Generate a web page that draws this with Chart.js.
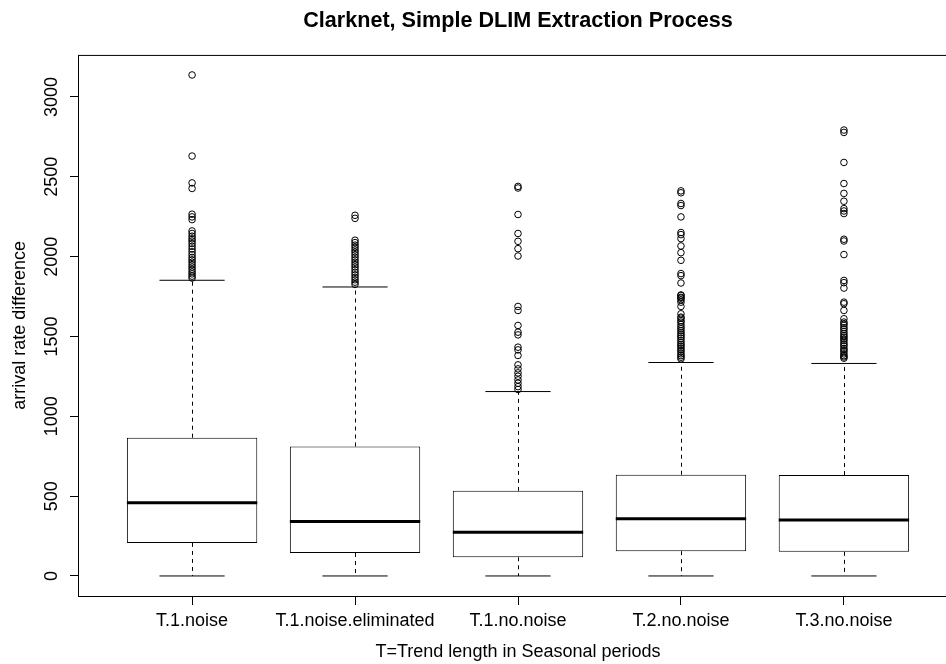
<!DOCTYPE html>
<html>
<head>
<meta charset="utf-8">
<title>Clarknet, Simple DLIM Extraction Process</title>
<script src="https://cdn.jsdelivr.net/npm/chart.js@4.4.1/dist/chart.umd.min.js"></script>
<style>
  html, body { margin: 0; padding: 0; background: #fff; overflow: hidden; }
  #wrap { width: 980px; height: 664px; }
</style>
</head>
<body>
<div id="wrap"><canvas id="boxChart" width="980" height="664"></canvas></div>
<script>
const categories = ["T.1.noise", "T.1.noise.eliminated", "T.1.no.noise", "T.2.no.noise", "T.3.no.noise"];

// five-number summaries per group
const whiskerLow = [0, 0, 0, 0, 0];
const quartile1 = [207, 144, 117, 155, 151];
const medians = [458, 341, 274, 358, 351];
const quartile3 = [866, 811, 533, 634, 632];
const whiskerHigh = [1852, 1810, 1155, 1337, 1331];

const outliersT1Noise = [3138, 2630, 2462, 2427, 2266, 2249, 2232, 2161, 2145, 2128, 2112, 2098, 2082,
  2065, 2048, 2030, 2012, 1995, 1980, 1965, 1950, 1935, 1920, 1905, 1892, 1878, 1866];
const outliersT1Eliminated = [2259, 2240, 2103, 2088, 2072, 2058, 2042, 2028, 2012, 1996, 1980, 1965,
  1950, 1935, 1918, 1902, 1886, 1870, 1855, 1840, 1826];
const outliersT1NoNoise = [2440, 2430, 2264, 2145, 2096, 2050, 2004, 1688, 1663, 1569, 1527, 1510,
  1433, 1416, 1381, 1322, 1297, 1272, 1251, 1228, 1207, 1186, 1168];
const outliersT2NoNoise = [2412, 2400, 2333, 2320, 2249, 2151, 2138, 2113, 2067, 2025, 1977, 1894, 1881,
  1835, 1760, 1757, 1745, 1740, 1730, 1715, 1688, 1642, 1621, 1615, 1600, 1590, 1575, 1560, 1548, 1535,
  1523, 1510, 1500, 1488, 1475, 1462, 1450, 1440, 1428, 1416, 1405, 1391, 1380, 1370, 1360];
const outliersT3NoNoise = [2793, 2778, 2590, 2458, 2396, 2347, 2301, 2286, 2270, 2109, 2098, 2013, 1851,
  1837, 1803, 1715, 1705, 1663, 1611, 1590, 1580, 1569, 1555, 1544, 1530, 1517, 1505, 1496, 1485, 1475,
  1462, 1450, 1440, 1425, 1416, 1405, 1391, 1380, 1372, 1364];
const outliers = [outliersT1Noise, outliersT1Eliminated, outliersT1NoNoise, outliersT2NoNoise, outliersT3NoNoise];

const yTicks = [0, 500, 1000, 1500, 2000, 2500, 3000];

const FONT = "'Liberation Sans', Arial, Helvetica, sans-serif";
Chart.defaults.font.family = FONT;
Chart.defaults.color = "#000";

// y range like R: data range padded by 4% on each side
const yTop = Math.max(...outliers.flat(), ...whiskerHigh);
const yPad = yTop * 0.04;

const boxData = categories.map((c, i) => ({ x: i + 1, y: [quartile1[i], quartile3[i]] }));
const pointData = [];
outliers.forEach((list, i) => list.forEach(v => pointData.push({ x: i + 1, y: v })));

// dashed whiskers + staples under the boxes, medians on top of them
const boxParts = {
    id: "boxParts",
    beforeDatasetsDraw(chart) {
        const ctx = chart.ctx;
        const y = chart.scales.y;
        const bars = chart.getDatasetMeta(0).data;
        ctx.save();
        ctx.strokeStyle = "#000";
        ctx.lineWidth = 1;
        bars.forEach((bar, i) => {
            const cx = Math.round(bar.x) + 0.5;
            const staple = bar.width / 4;
            ctx.setLineDash([4, 4]);
            ctx.beginPath();
            ctx.moveTo(cx, y.getPixelForValue(quartile3[i]));
            ctx.lineTo(cx, y.getPixelForValue(whiskerHigh[i]));
            ctx.moveTo(cx, y.getPixelForValue(quartile1[i]));
            ctx.lineTo(cx, y.getPixelForValue(whiskerLow[i]));
            ctx.stroke();
            ctx.setLineDash([]);
            ctx.beginPath();
            ctx.moveTo(bar.x - staple, y.getPixelForValue(whiskerHigh[i]));
            ctx.lineTo(bar.x + staple, y.getPixelForValue(whiskerHigh[i]));
            ctx.moveTo(bar.x - staple, y.getPixelForValue(whiskerLow[i]));
            ctx.lineTo(bar.x + staple, y.getPixelForValue(whiskerLow[i]));
            ctx.stroke();
        });
        ctx.restore();
    },
    afterDatasetDraw(chart, args) {
        if (args.index !== 0) return;
        const ctx = chart.ctx;
        const y = chart.scales.y;
        ctx.save();
        ctx.strokeStyle = "#000";
        ctx.lineWidth = 3;
        args.meta.data.forEach((bar, i) => {
            const my = y.getPixelForValue(medians[i]);
            ctx.beginPath();
            ctx.moveTo(bar.x - bar.width / 2, my);
            ctx.lineTo(bar.x + bar.width / 2, my);
            ctx.stroke();
        });
        ctx.restore();
    }
};

// box around the plotting region
const plotFrame = {
    id: "plotFrame",
    afterDraw(chart) {
        const {ctx, chartArea: a} = chart;
        ctx.save();
        ctx.strokeStyle = "#000";
        ctx.lineWidth = 1;
        ctx.strokeRect(a.left + 0.5, a.top + 0.5, a.right - a.left, a.bottom - a.top);
        ctx.restore();
    }
};

new Chart(document.getElementById("boxChart").getContext("2d"), {
    type: "bar",
    data: {
        datasets: [
            {
                type: "bar",
                data: boxData,
                backgroundColor: "#fff",
                borderColor: "#000",
                borderWidth: 1,
                borderSkipped: false,
                barPercentage: 1,
                categoryPercentage: 0.8
            },
            {
                type: "scatter",
                data: pointData,
                pointRadius: 3.3,
                pointBorderWidth: 1,
                pointBorderColor: "#000",
                pointBackgroundColor: "rgba(0,0,0,0)"
            }
        ]
    },
    options: {
        responsive: false,
        animation: false,
        devicePixelRatio: 1,
        layout: { padding: { left: 0, right: 22, top: 0, bottom: 0 } },
        plugins: {
            legend: { display: false },
            tooltip: { enabled: false },
            title: {
                display: true,
                fullSize: false,
                text: "Clarknet, Simple DLIM Extraction Process",
                color: "#000",
                font: { size: 21.6, weight: "bold" },
                padding: { top: 8, bottom: 21 }
            }
        },
        scales: {
            x: {
                type: "linear",
                min: 0.3,
                max: 5.7,
                offset: false,
                afterBuildTicks: (s) => { s.ticks = categories.map((c, i) => ({ value: i + 1 })); },
                afterFit: (s) => { s.height = 68; },
                grid: { offset: false, drawOnChartArea: false, tickLength: 9, tickColor: "#000" },
                border: { display: false },
                ticks: {
                    autoSkip: false,
                    minRotation: 0,
                    maxRotation: 0,
                    padding: 5,
                    font: { size: 18 },
                    callback: (v, i) => categories[i]
                },
                title: {
                    display: true,
                    text: "T=Trend length in Seasonal periods",
                    font: { size: 18 },
                    padding: { top: 0, bottom: 1 }
                }
            },
            y: {
                type: "linear",
                min: -yPad,
                max: yTop + yPad,
                afterBuildTicks: (s) => { s.ticks = yTicks.map(v => ({ value: v })); },
                afterFit: (s) => { s.width = 78; },
                grid: { drawOnChartArea: false, tickLength: 8, tickColor: "#000" },
                border: { display: false },
                ticks: {
                    minRotation: 90,
                    maxRotation: 90,
                    crossAlign: "center",
                    padding: -2,
                    font: { size: 18 },
                    callback: (v) => String(v)
                },
                title: {
                    display: true,
                    text: "arrival rate difference",
                    font: { size: 18 },
                    padding: { top: 9, bottom: 0 }
                }
            }
        }
    },
    plugins: [boxParts, plotFrame]
});
</script>
</body>
</html>
